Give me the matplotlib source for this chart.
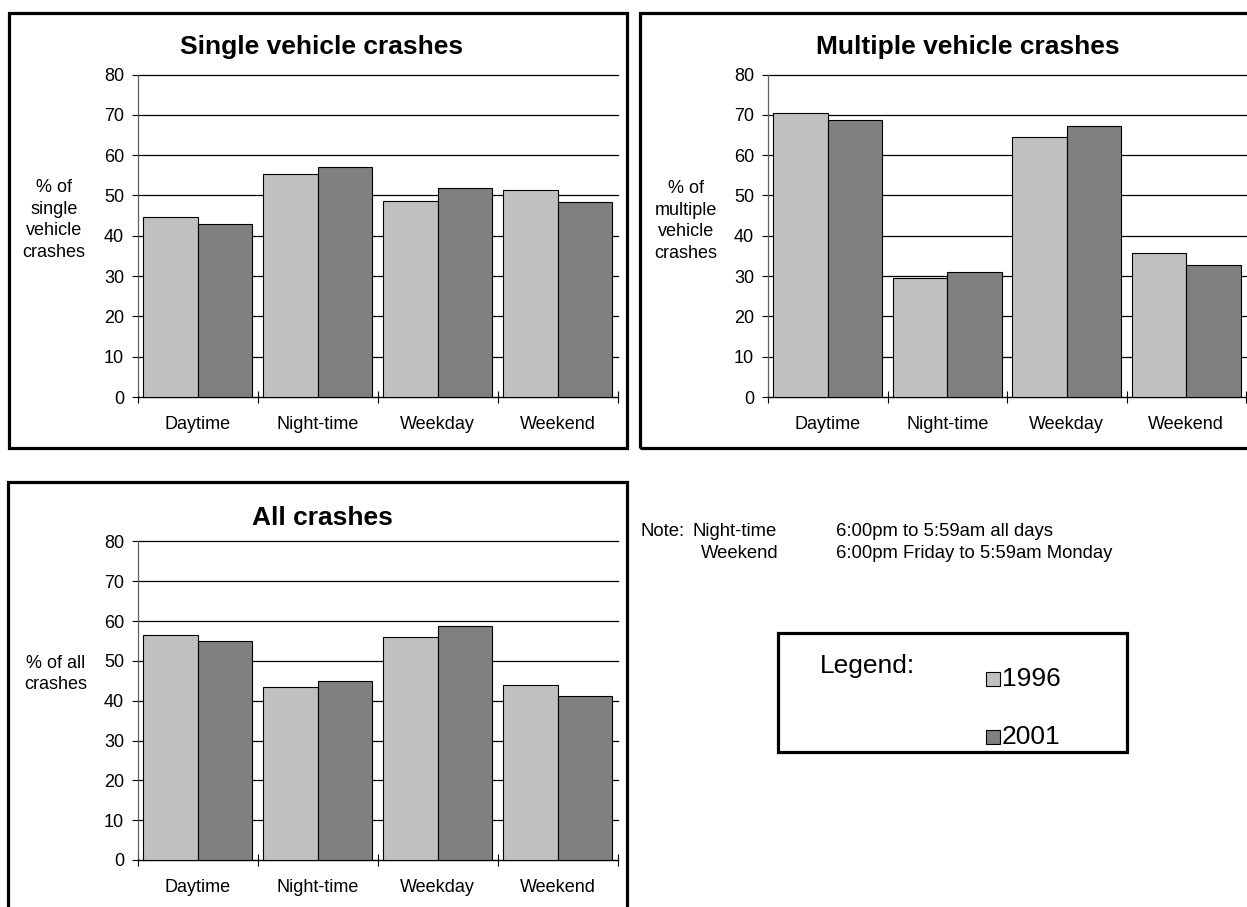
import matplotlib
matplotlib.use("Agg")
import matplotlib.pyplot as plt
from matplotlib.patches import Rectangle
import numpy as np

plt.rcParams['font.family'] = ['Liberation Sans', 'DejaVu Sans']

categories = ["Daytime", "Night-time", "Weekday", "Weekend"]
years = ["1996", "2001"]

single_1996 = [44.6, 55.4, 48.6, 51.4]
single_2001 = [42.9, 57.1, 51.8, 48.3]
multiple_1996 = [70.5, 29.5, 64.4, 35.7]
multiple_2001 = [68.8, 31.1, 67.3, 32.8]
all_1996 = [56.6, 43.4, 56.0, 44.0]
all_2001 = [55.0, 45.0, 58.9, 41.2]

yticks = [0, 10, 20, 30, 40, 50, 60, 70, 80]

W, H = 1247, 907
fig = plt.figure(figsize=(W / 100, H / 100), dpi=100)
fig.patch.set_facecolor('white')

C1996 = '#c0c0c0'
C2001 = '#808080'


def rect(l, t, r, b):
    return [l / W, 1 - b / H, (r - l) / W, (b - t) / H]


def ftext(x, y, s, **kw):
    return fig.text(x / W, 1 - y / H, s, **kw)


def frame(l, t, r, b):
    fig.patches.append(Rectangle((l / W, 1 - b / H), (r - l) / W, (b - t) / H,
                                 transform=fig.transFigure, fill=False,
                                 edgecolor='black', linewidth=2.3, zorder=0))


def chart(pos, v1, v2):
    ax = fig.add_axes(rect(*pos))
    x = np.arange(len(categories))
    w = 0.455
    ax.bar(x + 0.5 - w, v1, width=w, align='edge', color=C1996,
           edgecolor='black', linewidth=0.8, zorder=3)
    ax.bar(x + 0.5, v2, width=w, align='edge', color=C2001,
           edgecolor='black', linewidth=0.8, zorder=3)
    ax.set_xlim(0, len(categories))
    ax.set_ylim(0, 80)
    for yv in yticks[1:]:
        ax.axhline(yv, color='black', linewidth=0.9, zorder=1, clip_on=False)
    ax.set_yticks(yticks)
    ax.set_yticklabels([str(v) for v in yticks], fontsize=13)
    ax.tick_params(axis='y', direction='out', length=4, width=0.8, pad=6)
    ax.set_xticks(x + 0.5)
    ax.set_xticklabels(categories, fontsize=13)
    ax.tick_params(axis='x', which='major', length=0, pad=14)
    ax.set_xticks(np.arange(len(categories) + 1), minor=True)
    ax.tick_params(axis='x', which='minor', direction='inout', length=9, width=0.8)
    for s in ['top', 'right']:
        ax.spines[s].set_visible(False)
    ax.spines['left'].set_color('#606060')
    ax.spines['left'].set_linewidth(0.9)
    ax.spines['bottom'].set_linewidth(1.0)
    ax.set_facecolor('none')
    return ax


frame(9, 13, 627, 448)
frame(640, 13, 1262, 448)
frame(8, 482, 627, 922)

chart((138, 74.5, 617.5, 397), single_1996, single_2001)
chart((768, 74.5, 1246, 397), multiple_1996, multiple_2001)
chart((138, 541.5, 617.5, 860), all_1996, all_2001)

ftext(322, 47, "Single vehicle crashes", fontsize=19, fontweight='bold', ha='center', va='center')
ftext(968, 47, "Multiple vehicle crashes", fontsize=19, fontweight='bold', ha='center', va='center')
ftext(322, 518, "All crashes", fontsize=19, fontweight='bold', ha='center', va='center')

ftext(54, 220, "% of\nsingle\nvehicle\ncrashes", fontsize=13, ha='center', va='center', linespacing=1.38)
ftext(686, 221, "% of\nmultiple\nvehicle\ncrashes", fontsize=13, ha='center', va='center', linespacing=1.38)
ftext(56, 674, "% of all\ncrashes", fontsize=13, ha='center', va='center', linespacing=1.38)

ftext(641, 531, "Note:", fontsize=13.3, ha='left', va='center')
ftext(692, 531, "Night-time", fontsize=13.3, ha='left', va='center')
ftext(701, 554, "Weekend", fontsize=13.3, ha='left', va='center')
ftext(836, 531, "6:00pm to 5:59am all days", fontsize=13.3, ha='left', va='center')
ftext(836, 554, "6:00pm Friday to 5:59am Monday", fontsize=13.3, ha='left', va='center')

# legend box
frame(778, 633, 1127, 752)
ftext(820, 666, "Legend:", fontsize=19, ha='left', va='center')
for yc, col, lab in [(679, C1996, years[0]), (737, C2001, years[1])]:
    fig.patches.append(Rectangle((986 / W, 1 - (yc + 7) / H), 14 / W, 14 / H,
                                 transform=fig.transFigure, facecolor=col,
                                 edgecolor='black', linewidth=0.8))
    ftext(1002, yc, lab, fontsize=19, ha='left', va='center')

fig.savefig("out.png", dpi=100)
